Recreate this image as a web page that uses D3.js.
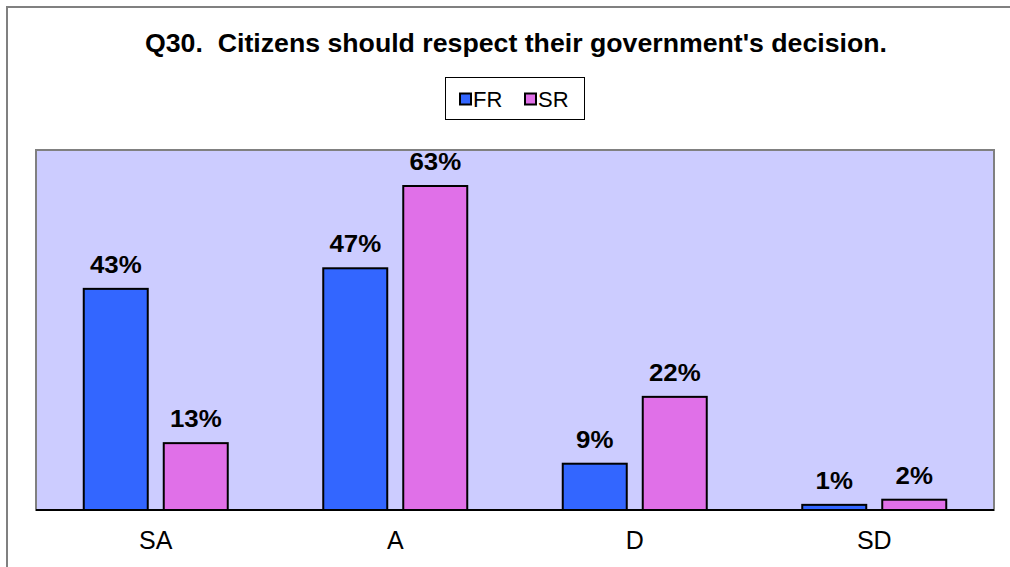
<!DOCTYPE html>
<html><head><meta charset="utf-8">
<script src="https://cdn.jsdelivr.net/npm/d3@7"></script>
<style>body{margin:0;background:#fff;} svg{display:block;font-family:"Liberation Sans",Arial,sans-serif;}</style>
</head><body>
<script>
const categories = ["SA","A","D","SD"];
const seriesNames = ["FR","SR"];
const frValues = [43,47,9,1];
const srValues = [13,63,22,2];
const colors = ["#3366FF","#E070E8"];
const title = "Q30.  Citizens should respect their government's decision.";

const W=1010,H=567;
const svg=d3.select("body").append("svg").attr("width",W).attr("height",H);
// outer border
svg.append("path").attr("d","M7,567 V7 H1010").attr("fill","none").attr("stroke","#808080").attr("stroke-width",2);

const pl=36,pr=994,pt=150,pb=510;
svg.append("rect").attr("x",pl).attr("y",pt).attr("width",pr-pl).attr("height",pb-pt)
  .attr("fill","#CCCCFF").attr("stroke","#808080").attr("stroke-width",2);

const x0=d3.scaleBand().domain(categories).range([pl,pr]);
const x1=d3.scaleBand().domain(seriesNames).range([-72,72]).paddingInner(0.2);
const y=d3.scaleLinear().domain([0,70]).range([pb,pt]);

const data=categories.map((c,i)=>({c,vals:[frValues[i],srValues[i]]}));
const g=svg.append("g");
data.forEach(d=>{
  const cx=x0(d.c)+x0.bandwidth()/2;
  d.vals.forEach((v,j)=>{
    const bx=cx+x1(seriesNames[j]);
    g.append("rect").attr("x",bx).attr("y",y(v)).attr("width",x1.bandwidth()).attr("height",y(0)-y(v))
      .attr("fill",colors[j]).attr("stroke","#000").attr("stroke-width",2);
    const tx=bx+x1.bandwidth()/2, ty=y(v)-16;
    g.append("text").attr("transform",`translate(${tx},${ty}) scale(1.1,1)`).attr("text-anchor","middle")
      .attr("font-size",23.5).attr("font-weight","bold").text(v+"%");
  });
});
// baseline
svg.append("line").attr("x1",pl).attr("x2",pr).attr("y1",pb).attr("y2",pb).attr("stroke","#000").attr("stroke-width",2);

// x axis labels
const xa=svg.append("g").attr("transform",`translate(0,${pb})`).call(d3.axisBottom(x0).tickSize(0).tickPadding(0));
xa.select(".domain").remove();
xa.selectAll("text").attr("font-size",25).attr("font-family","Liberation Sans, Arial, sans-serif").attr("fill","#000").attr("dy",null).attr("y",39);

// title
svg.append("text").attr("x",516).attr("y",52).attr("text-anchor","middle").attr("font-size",25).attr("font-weight","bold")
  .attr("textLength",742).attr("lengthAdjust","spacingAndGlyphs")
  .attr("xml:space","preserve").style("white-space","pre").text(title);

// legend
const lg=svg.append("g");
lg.append("rect").attr("x",445.5).attr("y",77.5).attr("width",139).attr("height",42).attr("fill","#fff").attr("stroke","#000").attr("stroke-width",1);
const lx=[460,525];
seriesNames.forEach((s,i)=>{
  lg.append("rect").attr("x",lx[i]).attr("y",93.5).attr("width",11).attr("height",11).attr("fill",colors[i]).attr("stroke","#000").attr("stroke-width",2);
  lg.append("text").attr("x",lx[i]+13).attr("y",107).attr("font-size",22).text(s);
});
</script>
</body></html>
